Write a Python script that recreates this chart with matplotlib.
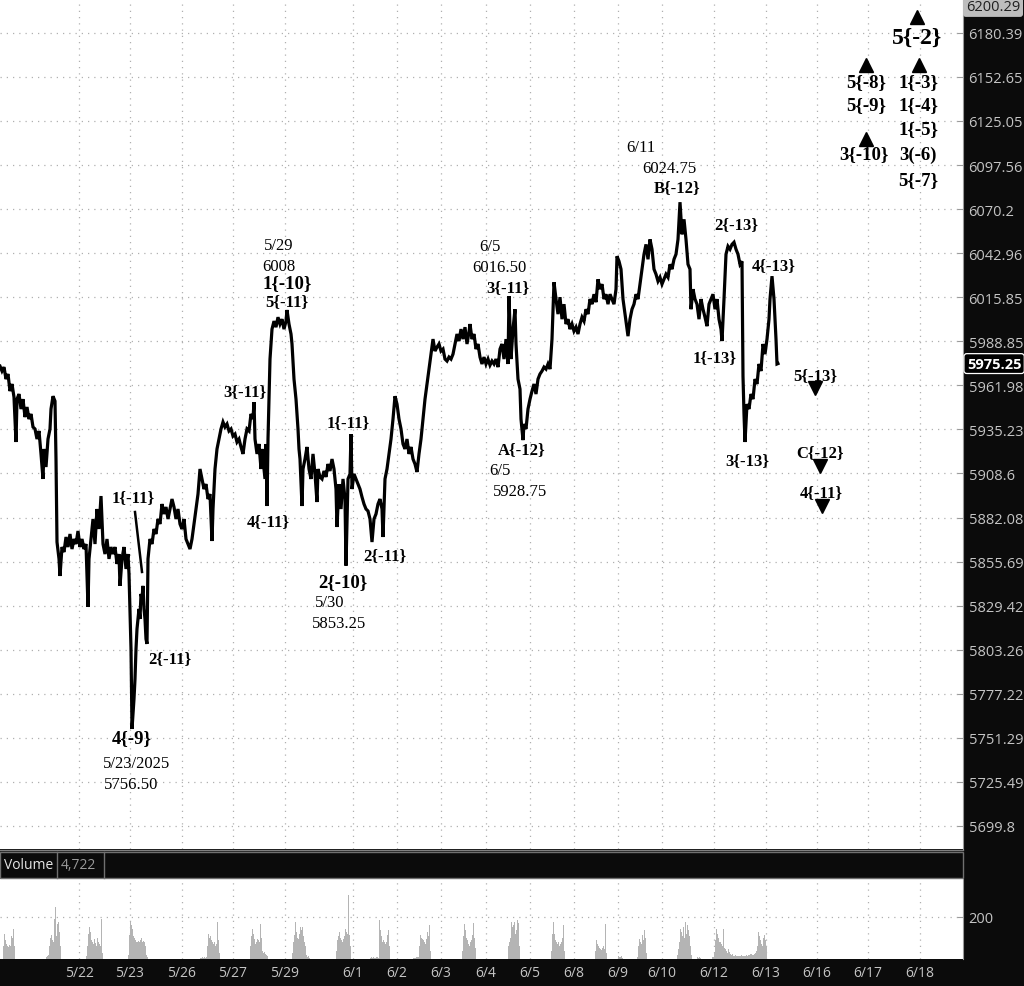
import matplotlib.pyplot as plt
import matplotlib.transforms as mtransforms
from matplotlib.patches import Rectangle
from matplotlib.ticker import NullLocator
import numpy as np

# ---- price path (time index, price) ----
t = [0, 2, 4, 6, 8, 10, 12, 14, 16, 17, 19, 21, 23, 25, 27, 29, 31, 33, 35, 37, 39, 41, 43, 44, 46, 48, 50, 51,
     53, 55, 56, 57, 59, 60, 62, 64, 66, 68, 70, 72, 74, 76, 78, 80, 82, 84, 86, 88, 89, 91, 93, 95, 97, 99,
     101, 103, 105, 107, 109, 111, 113, 115, 117, 119, 120, 122, 124, 126, 128, 129, 131, 132, 134, 135, 136,
     137, 139, 140, 141, 142, 143, 144, 145, 146, 147, 148, 150, 152, 154, 156, 158, 160, 162, 164, 166, 168,
     170, 172, 174, 176, 178, 180, 182, 184, 186, 188, 190, 192, 194, 196, 198, 200, 202, 204, 206, 208, 210,
     212, 213, 215, 217, 219, 221, 223, 225, 227, 229, 231, 233, 235, 237, 239, 241, 243, 245, 247, 249, 251,
     253, 254, 255, 257, 259, 261, 262, 264, 265, 266, 267, 268, 270, 272, 274, 276, 278, 280, 282, 284, 286,
     287, 289, 291, 292, 294, 296, 298, 299, 300, 302, 303, 305, 307, 309, 311, 313, 315, 317, 318, 320, 322,
     324, 326, 328, 330, 332, 334, 336, 337, 339, 341, 343, 345, 346, 348, 350, 351, 352, 354, 356, 358, 360,
     362, 364, 366, 368, 370, 372, 374, 376, 378, 380, 382, 383, 385, 387, 389, 391, 393, 395, 397, 399, 401,
     403, 405, 407, 409, 411, 413, 415, 417, 419, 421, 423, 425, 427, 429, 431, 433, 435, 437, 439, 441, 443,
     445, 447, 449, 451, 453, 455, 457, 459, 461, 463, 465, 467, 469, 470, 472, 474, 476, 478, 480, 482, 484,
     486, 488, 490, 492, 494, 496, 498, 500, 502, 504, 506, 508, 509, 511, 513, 515, 516, 518, 520, 521, 523,
     524, 526, 528, 530, 532, 534, 536, 538, 540, 542, 544, 546, 548, 550, 552, 554, 556, 558, 560, 562, 564,
     566, 568, 570, 572, 574, 576, 578, 580, 582, 584, 586, 588, 590, 592, 594, 596, 598, 600, 602, 604, 606,
     608, 610, 612, 614, 616, 617, 619, 621, 623, 625, 627, 628, 630, 632, 634, 636, 638, 640, 642, 644, 646,
     648, 650, 652, 654, 656, 658, 660, 662, 664, 666, 668, 670, 672, 674, 676, 678, 680, 682, 684, 686, 688,
     690, 691, 693, 695, 697, 699, 701, 703, 705, 707, 709, 711, 713, 715, 717, 719, 721, 722, 724, 726, 728,
     730, 732, 734, 736, 738, 740, 742, 743, 744, 745, 747, 749, 751, 753, 755, 757, 759, 761, 763, 765, 767,
     769, 770, 772, 774, 775, 776, 777, 778]
price = [5973.7, 5970.7, 5973.1, 5965.8, 5968.9, 5958.5, 5962.8, 5954.8, 5927.6, 5953.6, 5956.7, 5947.6, 5953.6,
         5942.7, 5948.8, 5941.5, 5944.6, 5936.7, 5935.5, 5929.4, 5934.3, 5920.4, 5905.3, 5923.4, 5912.5, 5929.4,
         5935.5, 5947.6, 5955.4, 5952.4, 5917.3, 5867.4, 5857.3, 5847.1, 5864.4, 5861.4, 5870.4, 5864.4, 5872.2,
         5863.2, 5869.2, 5866.2, 5874.0, 5864.4, 5869.2, 5863.2, 5866.2, 5828.7, 5857.3, 5869.2, 5881.2, 5866.2,
         5887.2, 5875.2, 5895.0, 5866.2, 5860.2, 5869.2, 5857.3, 5864.4, 5860.2, 5864.4, 5854.3, 5860.2, 5841.2,
         5857.3, 5864.4, 5851.3, 5860.2, 5848.3, 5803.7, 5756.5, 5774.2, 5786.0, 5803.7, 5815.6, 5827.5, 5821.5,
         5836.4, 5833.4, 5841.2, 5827.5, 5821.5, 5809.6, 5806.7, 5857.3, 5869.2, 5866.2, 5875.2, 5872.2, 5881.2,
         5878.2, 5890.2, 5884.2, 5888.4, 5881.2, 5887.2, 5893.2, 5888.4, 5881.2, 5887.2, 5878.2, 5875.2, 5881.2,
         5869.2, 5866.2, 5863.2, 5869.2, 5878.2, 5887.2, 5896.2, 5911.3, 5905.3, 5899.2, 5902.2, 5893.2, 5896.2,
         5868.0, 5887.2, 5911.3, 5923.4, 5929.4, 5935.5, 5939.7, 5936.7, 5938.5, 5934.3, 5935.5, 5931.2, 5932.4,
         5927.6, 5929.4, 5924.6, 5920.4, 5929.4, 5935.5, 5934.3, 5944.6, 5941.5, 5951.8, 5929.4, 5920.4, 5926.4,
         5911.3, 5923.4, 5911.3, 5905.3, 5926.4, 5889.0, 5929.4, 5978.0, 5996.3, 6001.2, 5997.5, 6003.6, 5999.4,
         6002.4, 5996.3, 6001.2, 6008.0, 5999.4, 5993.3, 5987.2, 5965.8, 5953.6, 5935.5, 5923.4, 5917.3, 5889.0,
         5911.3, 5917.3, 5924.6, 5911.3, 5905.3, 5920.4, 5908.3, 5891.4, 5911.3, 5906.5, 5905.3, 5910.1, 5906.5,
         5914.3, 5910.1, 5917.3, 5911.3, 5899.2, 5876.4, 5902.2, 5887.2, 5905.3, 5893.2, 5853.25, 5905.3, 5908.3,
         5932.4, 5899.2, 5908.3, 5905.3, 5902.2, 5899.2, 5894.4, 5890.2, 5887.2, 5886.0, 5881.2, 5867.4, 5881.2,
         5884.2, 5890.2, 5893.2, 5887.2, 5870.4, 5905.3, 5911.3, 5920.4, 5929.4, 5941.5, 5955.4, 5950.6, 5941.5,
         5935.5, 5926.4, 5923.4, 5929.4, 5920.4, 5924.6, 5917.3, 5914.3, 5909.5, 5920.4, 5929.4, 5941.5, 5953.6,
         5962.8, 5971.9, 5981.0, 5990.2, 5982.9, 5985.3, 5987.2, 5982.9, 5984.1, 5978.0, 5976.8, 5979.2, 5978.0,
         5981.0, 5987.2, 5993.3, 5989.0, 5996.3, 5990.2, 5997.5, 5987.2, 5994.5, 5999.4, 5990.2, 5993.3, 5984.1,
         5987.2, 5979.2, 5975.0, 5979.2, 5975.0, 5978.0, 5974.3, 5976.8, 5975.0, 5978.0, 5973.1, 5984.1, 5987.2,
         5978.0, 5990.2, 5975.0, 6016.5, 5978.0, 5996.3, 6008.5, 5987.2, 5965.8, 5959.7, 5941.5, 5928.75, 5938.5,
         5935.5, 5947.6, 5953.6, 5958.5, 5962.8, 5956.7, 5965.8, 5968.9, 5970.7, 5973.1, 5971.9, 5975.0, 5971.9,
         5990.2, 6025.1, 6014.7, 6005.5, 6015.9, 6002.4, 6011.6, 5999.4, 6002.4, 5996.3, 5999.4, 5995.1, 5997.5,
         5993.3, 5999.4, 6003.6, 6001.2, 6008.5, 6005.5, 6014.7, 6011.6, 6017.7, 6012.8, 6026.9, 6020.8, 6023.9,
         6014.7, 6017.7, 6011.6, 6017.7, 6014.7, 6011.6, 6020.8, 6041.1, 6038.0, 6033.1, 6014.7, 6005.5, 5996.3,
         5992.0, 6002.4, 6008.5, 6011.6, 6017.7, 6014.7, 6023.9, 6033.1, 6042.3, 6048.4, 6039.2, 6051.5, 6045.4,
         6033.1, 6030.0, 6025.7, 6028.1, 6023.9, 6026.9, 6030.0, 6028.1, 6036.1, 6033.1, 6039.2, 6042.3, 6051.5,
         6074.5, 6054.6, 6063.9, 6051.5, 6036.1, 6033.1, 6008.5, 6020.8, 6014.7, 6011.6, 6002.4, 6014.7, 6008.5,
         6003.6, 5998.1, 6011.6, 6014.7, 6017.7, 6008.5, 6014.7, 6002.4, 5996.3, 5989.0, 6014.7, 6042.3, 6047.2,
         6045.4, 6048.4, 6049.7, 6045.4, 6042.3, 6036.1, 6038.0, 5967.6, 5944.6, 5927.6, 5950.6, 5947.6, 5956.7,
         5953.6, 5965.8, 5962.8, 5975.0, 5970.7, 5987.2, 5981.0, 5990.2, 6002.4, 6014.7, 6028.8, 6014.7, 6002.4,
         5990.2, 5975.0, 5975.25]

# ---- volume clusters: (start index, bar volumes) ----
vol_clusters = [
    (3, [60, 120, 90, 70, 60, 55, 65, 60, 110, 100, 144, 60]),
    (46, [10, 15, 20, 60, 100, 112, 90, 80, 190, 248, 110, 168, 176, 130, 60]),
    (86, [15, 60, 120, 152, 130, 90, 80, 70, 95, 75, 64, 100, 80, 70, 60, 190, 30]),
    (128, [20, 112, 176, 160, 144, 110, 100, 90, 80, 80, 85, 80, 90, 100, 80, 85, 80, 60, 20, 10]),
    (200, [5, 5, 8, 6, 8, 5, 10, 60, 120, 100, 110, 90, 80, 70, 80, 60, 70, 176, 90, 30]),
    (250, [60, 110, 144, 120, 96, 70, 80, 96, 90, 80, 168, 100, 40, 30, 32, 25, 20, 15]),
    (292, [30, 80, 112, 176, 130, 100, 96, 120, 152, 140, 152, 110, 80, 60, 20, 10, 15, 5]),
    (336, [40, 90, 110, 128, 100, 90, 80, 96, 110, 144, 130, 120, 304, 112, 60]),
    (370, [5, 8, 6, 8, 5, 6, 10, 8, 5, 184, 140, 110, 80, 90, 80, 70, 80, 112, 136, 60]),
    (413, [5, 6, 5, 8, 10, 8, 60, 112, 100, 96, 90, 80, 72, 96, 128, 110, 160, 40]),
    (462, [40, 110, 168, 140, 100, 90, 70, 60, 80, 90, 112, 170, 100, 50]),
    (508, [60, 80, 100, 176, 150, 160, 176, 120, 140, 184, 170, 60]),
    (551, [40, 120, 176, 120, 90, 80, 70, 80, 64, 72, 80, 100, 160, 40]),
    (595, [40, 88, 70, 60, 50, 48, 45, 50, 60, 48, 168, 30]),
    (618, [16, 10, 8, 12, 6]),
    (637, [10, 60, 96, 80, 70, 112, 90, 136, 100, 30]),
    (677, [20, 48, 80, 144, 130, 110, 150, 100, 176, 120, 160, 140, 110, 60, 20]),
    (697, [8, 6, 10, 5]),
    (712, [10, 8, 30, 90, 144, 120, 100, 80, 80, 70, 60, 144, 50, 48, 40, 30, 48, 35, 24, 20, 24, 16,
           15, 18, 16, 12, 14, 16, 15, 18, 16, 14, 12, 16, 20, 16, 18, 20, 24, 22, 20, 18, 24, 30, 40, 60,
           128, 110, 90, 70, 60, 100, 112, 90, 60]),
]

# ---- axes labels ----
date_labels = ['5/22', '5/23', '5/26', '5/27', '5/29', '6/1', '6/2', '6/3', '6/4', '6/5',
               '6/8', '6/9', '6/10', '6/12', '6/13', '6/16', '6/17', '6/18']
date_pos = [79, 130, 182, 233, 285, 353, 397, 441, 486, 530, 574, 618, 662, 714, 766, 817, 868, 920]
price_ticks = [5699.8, 5725.49, 5751.29, 5777.22, 5803.26, 5829.42, 5855.69, 5882.08, 5908.6,
               5935.23, 5961.98, 5988.85, 6015.85, 6042.96, 6070.2, 6097.56, 6125.05, 6152.65, 6180.39]
last_price = 5975.25
max_price = 6200.29

# ---- wave annotations: (text, t, price, size, bold) ----
notes = [
    ('1{-11}', 133, 5894.5, 12, True), ('2{-11}', 170, 5798.4, 12, True),
    ('4{-9}', 132, 5751.2, 13.5, True), ('5/23/2025', 137, 5736.6, 12, False),
    ('5756.50', 131, 5724.3, 12, False),
    ('3{-11}', 245, 5958.6, 12, True), ('4{-11}', 268, 5880.0, 12, True),
    ('5/29', 279, 6048.1, 12, False), ('6008', 279, 6035.1, 12, False),
    ('1{-10}', 287, 6024.6, 13.5, True), ('5{-11}', 287, 6013.6, 12, True),
    ('1{-11}', 348, 5939.8, 12, True), ('2{-11}', 385, 5859.7, 12, True),
    ('2{-10}', 343, 5843.5, 13.5, True), ('5/30', 330, 5831.6, 12, False),
    ('5853.25', 339, 5819.2, 12, False),
    ('6/5', 490, 6047.5, 12, False), ('6016.50', 499, 6034.5, 12, False),
    ('3{-11}', 508, 6022.2, 12, True), ('A{-12}', 522, 5923.4, 12, True),
    ('6/5', 500, 5910.7, 12, False), ('5928.75', 520, 5898.0, 12, False),
    ('6/11', 641, 6108.9, 12, False), ('6024.75', 669, 6095.8, 12, False),
    ('B{-12}', 677, 6084.0, 12, True), ('2{-13}', 736, 6061.1, 12, True),
    ('4{-13}', 774, 6035.7, 12, True), ('1{-13}', 715, 5979.3, 12, True),
    ('5{-13}', 815, 5968.3, 12, True), ('3{-13}', 747, 5916.8, 12, True),
    ('C{-12}', 820, 5921.6, 12, True), ('4{-11}', 821, 5897.5, 12, True),
    ('5{-2}', 917, 6177.8, 17, True),
    ('5{-8}', 866, 6149.5, 13.5, True), ('1{-3}', 918, 6149.5, 13.5, True),
    ('5{-9}', 866, 6135.1, 13.5, True), ('1{-4}', 918, 6135.1, 13.5, True),
    ('1{-5}', 918, 6120.1, 13.5, True), ('3{-10}', 864, 6104.5, 13.5, True),
    ('3(-6)', 918, 6104.5, 13.5, True), ('5{-7}', 918, 6088.3, 13.5, True),
]
up_marks_t = [917, 866, 919, 866]
up_marks_p = [6190.4, 6160.2, 6160.2, 6113.8]
down_marks_t = [815, 820, 822]
down_marks_p = [5960.4, 5913.1, 5889.0]

W, H = 1024, 987
BG = '#0b0b0b'
GRID = '#b0b0b0'
TXT = '#c4c4c4'
SERIF = 'Liberation Serif'
SANS = 'Open Sans'

fig = plt.figure(figsize=(W / 100, H / 100), dpi=100, facecolor=BG)
right = 963 / W

# price panel
ax = fig.add_axes([0, 1 - 850 / H, right, 850 / H])
ax.set_facecolor('white')
ax.set_yscale('log')
ax.set_xlim(0, 963)
ax.set_ylim(5686.4, 6201.8)
for x in date_pos:
    ax.axvline(x, color=GRID, lw=0.9, ls=(0, (1, 4)), zorder=0)
for y in price_ticks:
    ax.axhline(y, color=GRID, lw=0.9, ls=(0, (1, 4)), zorder=0)
ax.plot(t, price, color='black', lw=2.3, solid_joinstyle='miter', zorder=2)

ax.yaxis.tick_right()
ax.set_yticks(price_ticks)
ax.set_yticklabels([f'{v:g}' if v in (6070.2, 5908.6, 5699.8) else f'{v:.2f}' for v in price_ticks])
ax.yaxis.set_minor_locator(NullLocator())
ax.tick_params(axis='y', direction='in', colors='#9a9a9a', labelcolor=TXT, length=4, width=0.8,
               pad=4, labelsize=10.5, labelfontfamily=SANS)
ax.set_xticks([])
for s in ['left', 'top', 'bottom']:
    ax.spines[s].set_visible(False)
ax.spines['right'].set_color('#9a9a9a')

trans = mtransforms.blended_transform_factory(ax.transAxes, ax.transData)
ax.text(1.003, 1.0, f'{max_price:.2f}', transform=ax.transAxes, ha='left', va='top',
        fontsize=10.5, family=SANS, color='#202020',
        bbox=dict(boxstyle='round,pad=0.15', fc='#bdbdbd', ec='#bdbdbd'))
ax.text(1.004, last_price, f'{last_price:.2f}', transform=trans, ha='left', va='center',
        fontsize=10.5, family=SANS, color='white', fontweight='bold', clip_on=False,
        bbox=dict(boxstyle='round,pad=0.2', fc='black', ec='white', lw=0.9))

for txt, x, y, size, bold in notes:
    ax.text(x, y, txt, ha='center', va='center', fontsize=size, family=SERIF,
            fontweight='bold' if bold else 'normal', color='black', zorder=4)
ax.plot(up_marks_t, up_marks_p, ls='none', marker='^', ms=10, color='black')
ax.plot(down_marks_t, down_marks_p, ls='none', marker='v', ms=10, color='black')
ax.plot([135, 142], [5885.4, 5849.5], color='black', lw=1.8)

# volume header bar
fig.add_artist(Rectangle((0, 1 - 879 / H), right, 26 / H, transform=fig.transFigure,
                         fc=BG, ec='#707070', lw=1))
fig.add_artist(plt.Line2D([0, right], [1 - 851 / H] * 2, transform=fig.transFigure,
                          color='#808080', lw=1))
for xs in (57, 104):
    fig.add_artist(plt.Line2D([xs / W] * 2, [1 - 879 / H, 1 - 853 / H], transform=fig.transFigure,
                              color='#707070', lw=1))
fig.text(4 / W, 1 - 866 / H, 'Volume', color='#e6e6e6', fontsize=10, family=SANS, va='center')
fig.text(61 / W, 1 - 866 / H, '4,722', color='#9a9a9a', fontsize=10, family=SANS, va='center')

# volume panel
axv = fig.add_axes([0, 1 - 960 / H, right, 80 / H])
axv.set_facecolor('white')
axv.set_xlim(0, 963)
axv.set_ylim(0, 380)
for x in date_pos:
    axv.axvline(x, color=GRID, lw=0.9, ls=(0, (1, 4)), zorder=0)
axv.axhline(200, color=GRID, lw=0.9, ls=(0, (1, 4)), zorder=0)
for start, vals in vol_clusters:
    xs = start + np.arange(len(vals))
    axv.bar(xs, vals, width=1.0, color='#b4b4b4', lw=0, zorder=1)
axv.yaxis.tick_right()
axv.set_yticks([200])
axv.tick_params(axis='y', direction='in', colors='#9a9a9a', labelcolor=TXT, length=4, width=0.8,
                pad=4, labelsize=10.5, labelfontfamily=SANS)
axv.set_xticks(date_pos)
axv.set_xticklabels(date_labels)
axv.tick_params(axis='x', length=0, pad=4, labelcolor=TXT, labelsize=10, labelfontfamily=SANS)
for s in ['left', 'top', 'bottom']:
    axv.spines[s].set_visible(False)
axv.spines['right'].set_color('#9a9a9a')

fig.savefig('out.png', dpi=100, facecolor=BG)
